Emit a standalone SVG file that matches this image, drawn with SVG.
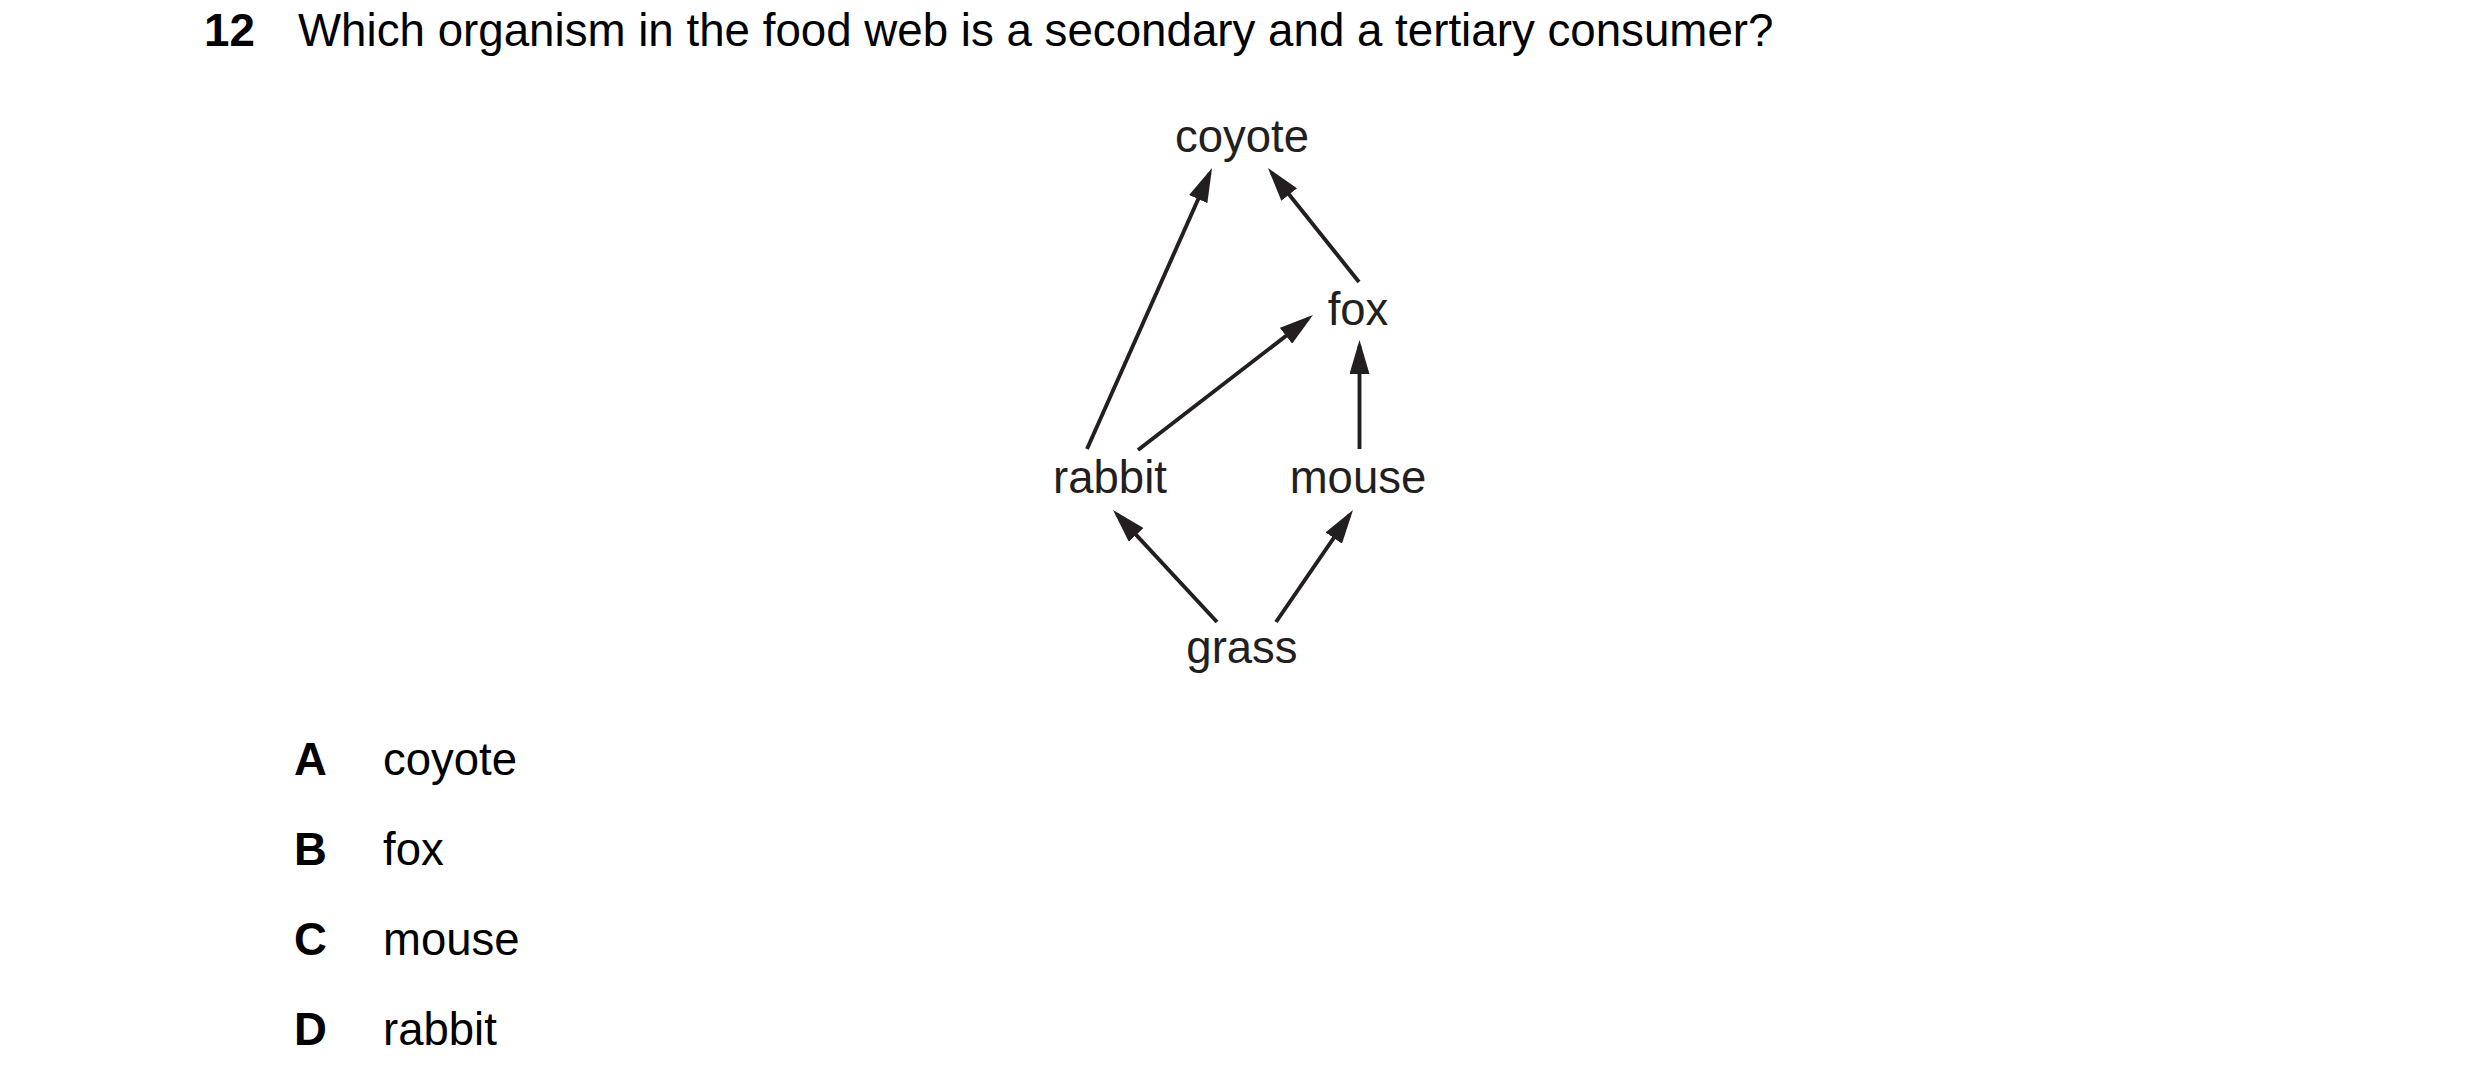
<svg xmlns="http://www.w3.org/2000/svg" width="2480" height="1086" viewBox="0 0 2480 1086">
<style>
.t{font-family:"Liberation Sans",Arial,sans-serif;font-size:45.5px;fill:#000}
.h{font-size:45.7px}
.b{font-weight:bold}
.n{font-family:"Liberation Sans",Arial,sans-serif;font-size:45.5px;fill:#231f20;text-anchor:middle}
.e{stroke:#231f20;stroke-width:3.9;fill:none;marker-end:url(#ah)}
</style>
<defs>
<marker id="ah" viewBox="0 0 34 20" refX="28" refY="10" markerWidth="34" markerHeight="20" markerUnits="userSpaceOnUse" orient="auto">
<path d="M0,0 L34,10 L0,20 z" fill="#231f20"/>
</marker>
</defs>
<rect width="2480" height="1086" fill="#fff"/>
<g id="question">
<text class="t h b" x="204" y="46">12</text>
<text class="t h" x="298" y="46">Which organism in the food web is a secondary and a tertiary consumer?</text>
</g>
<g id="connectors">
<line class="e" x1="1087" y1="449" x2="1209.6" y2="173.5"/>
<line class="e" x1="1359" y1="282" x2="1271.7" y2="172.7"/>
<line class="e" x1="1138" y1="450" x2="1308.2" y2="318.7"/>
<line class="e" x1="1359.5" y1="449" x2="1359.5" y2="346"/>
<line class="e" x1="1217" y1="622" x2="1117.1" y2="514.4"/>
<line class="e" x1="1276" y1="622" x2="1349.6" y2="514.9"/>
</g>
<g id="node-coyote"><text class="n" x="1242" y="152">coyote</text></g>
<g id="node-fox"><text class="n" x="1358" y="325">fox</text></g>
<g id="node-rabbit"><text class="n" x="1110" y="493">rabbit</text></g>
<g id="node-mouse"><text class="n" x="1358" y="493">mouse</text></g>
<g id="node-grass"><text class="n" x="1242" y="663">grass</text></g>
<g id="options">
<text class="t b" x="294" y="775">A</text><text class="t" x="383" y="775">coyote</text>
<text class="t b" x="294" y="865">B</text><text class="t" x="383" y="865">fox</text>
<text class="t b" x="294" y="955">C</text><text class="t" x="383" y="955">mouse</text>
<text class="t b" x="294" y="1045">D</text><text class="t" x="383" y="1045">rabbit</text>
</g>
</svg>
